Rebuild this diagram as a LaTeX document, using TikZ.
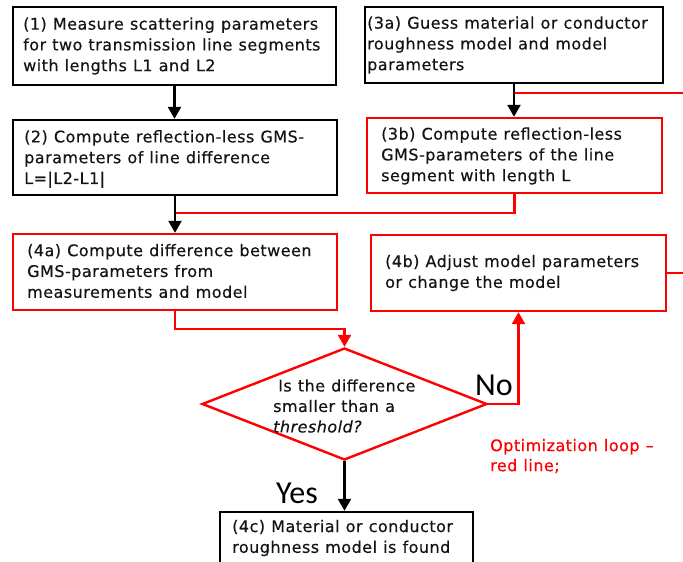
\documentclass[tikz,border=0pt]{standalone}
\usepackage{fontspec}
\setmainfont[LetterSpace=3,WordSpace=1.1,FakeBold=0.35]{DejaVu Sans}
\newfontfamily\yesnofont{Carlito}
\usetikzlibrary{shapes.geometric,arrows.meta}
\definecolor{loopred}{RGB}{255,0,0}
\definecolor{inkdark}{RGB}{20,20,20}
\begin{document}
\begin{tikzpicture}[x=1pt,y=-1pt,
  box/.style={draw, line width=2.4pt, inner sep=0pt, rectangle},
  blackbox/.style={box, draw=black},
  redbox/.style={box, draw=loopred},
  txt/.style={anchor=west, align=left, inner sep=0pt, font=\fontsize{16}{20.8}\selectfont, text=inkdark},
  conn/.style={line width=2.4pt},
  blk/.style={conn, draw=black},
  rdl/.style={conn, draw=loopred},
  arr/.style={-{Triangle[width=13pt,length=12pt]}},
  bigword/.style={inner sep=0pt, font=\yesnofont\fontsize{32}{34}\selectfont, text=black}
]
\useasboundingbox (0,0) rectangle (683,562);
\fill[white] (0,0) rectangle (683,562);
\clip (0,0) rectangle (683,562);

% boxes
\node[blackbox, minimum width=323pt, minimum height=78pt] (b1) at (174.5,46) {};
\node[blackbox, minimum width=298pt, minimum height=76pt] (b3a) at (514,45) {};
\node[blackbox, minimum width=324pt, minimum height=75pt] (b2) at (175,157.5) {};
\node[redbox, minimum width=295pt, minimum height=75pt] (b3b) at (514.5,155.5) {};
\node[redbox, minimum width=324pt, minimum height=76pt] (b4a) at (175,272) {};
\node[redbox, minimum width=295pt, minimum height=76pt] (b4b) at (518.5,273) {};
\node[blackbox, minimum width=253pt, minimum height=54pt] (b4c) at (346.5,539) {};
\node[draw=loopred, line width=2.4pt, diamond, inner sep=0pt, minimum width=285pt, minimum height=112pt] (d) at (344.5,404) {};

% texts
\node[txt] (t1) at (23,46) {(1) Measure scattering parameters\\for two transmission line segments\\with lengths L1 and L2};
\node[txt] (t3a) at (367,45) {(3a) Guess material or conductor\\roughness model and model\\parameters};
\node[txt] (t2) at (24,159) {(2) Compute reflection-less GMS-\\parameters of line difference\\L=|L2-L1|};
\node[txt] (t3b) at (381,156) {(3b) Compute reflection-less\\GMS-parameters of the line\\segment with length L};
\node[txt] (t4a) at (27,271) {(4a) Compute difference between\\GMS-parameters from\\measurements and model};
\node[txt] (t4b) at (385,273) {(4b) Adjust model parameters\\or change the model};
\node[txt] (t4c) at (232,538) {(4c) Material or conductor\\roughness model is found};
\node[txt, font=\fontsize{16}{20.5}\selectfont] (td) at (273,406) {\hspace*{5pt}Is the difference\\smaller than a\\\textit{threshold?}};
\node[txt, text=loopred, font=\fontsize{16}{20}\selectfont] (tl) at (490,456) {Optimization loop --\\red line;};
\node[bigword] (no) at (494,385) {No};
\node[bigword] (yes) at (297,493) {Yes};

% free ends and helper coordinates
\coordinate (e1) at (683,93);
\coordinate (e2) at (683,273);
\coordinate (r1) at (0,213);

% red loop lines
\draw[rdl] (e1) -- (b3a.south |- e1);
\draw[rdl] (b3b.south) |- (b2.south |- r1);
\draw[rdl, arr] (b4a.south) -- ++(0,18) -| (d.north);
\draw[rdl, arr] (d.east) -| (b4b.south);
\draw[rdl] (b4b.east) -- (e2);

% black connectors
\draw[blk, arr] (b1.south) -- (b1.south |- b2.north);
\draw[blk, arr] (b3a.south) -- (b3a.south |- b3b.north);
\draw[blk, arr] (b2.south) -- (b2.south |- b4a.north);
\draw[blk, arr] (d.south) -- (d.south |- b4c.north);
\end{tikzpicture}
\end{document}
